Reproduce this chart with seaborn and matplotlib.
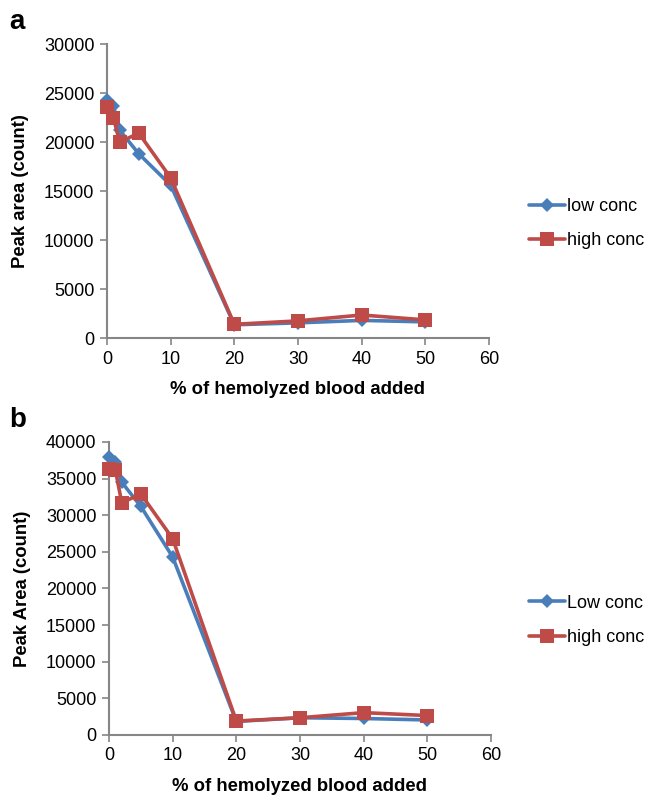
import matplotlib
matplotlib.use("Agg")
import matplotlib.pyplot as plt
import seaborn as sns
import pandas as pd

# ---- data ----
pct = [0, 1, 2, 5, 10, 20, 30, 40, 50]
a_low = [24300, 23700, 21200, 18800, 15600, 1350, 1550, 1800, 1650]
a_high = [23600, 22500, 20000, 20900, 16350, 1400, 1750, 2350, 1850]
b_low = [37900, 37200, 34500, 31200, 24300, 1850, 2350, 2250, 2050]
b_high = [36300, 36200, 31700, 32900, 26800, 1900, 2350, 3050, 2650]

a_names = ["low conc", "high conc"]
b_names = ["Low conc", "high conc"]
xticks = [0, 10, 20, 30, 40, 50, 60]
a_yticks = [0, 5000, 10000, 15000, 20000, 25000, 30000]
b_yticks = [0, 5000, 10000, 15000, 20000, 25000, 30000, 35000, 40000]

BLUE = "#4A7EBB"
RED = "#BE4B48"
SPINE = "#868686"

sns.set_theme(style="white")
plt.rcParams["font.family"] = ["Liberation Sans", "DejaVu Sans"]
plt.rcParams["text.color"] = "black"
plt.rcParams["axes.labelcolor"] = "black"

fig = plt.figure(figsize=(6.48, 7.95), dpi=100)
ax_a = fig.add_axes([0.1651, 0.5748, 0.5895, 0.3698])
ax_b = fig.add_axes([0.1682, 0.0755, 0.5895, 0.3686])


def panel(ax, low, high, names, yticks, ylabel, leg_y):
    df = pd.DataFrame({
        "pct": pct + pct,
        "area": low + high,
        "series": [names[0]] * len(pct) + [names[1]] * len(pct),
    })
    sns.lineplot(data=df, x="pct", y="area", hue="series", style="series",
                 hue_order=names, style_order=names,
                 palette={names[0]: BLUE, names[1]: RED},
                 markers={names[0]: "D", names[1]: "s"}, dashes=False,
                 linewidth=2.6, markeredgewidth=0,
                 ax=ax, legend=True)
    for ln in ax.get_lines():
        ln.set_clip_on(False)
        if ln.get_marker() == "D":
            ln.set_markersize(7.5)
        else:
            ln.set_markersize(10)
    ax.set_xlim(0, 60)
    ax.set_ylim(0, yticks[-1])
    ax.set_xticks(xticks)
    ax.set_yticks(yticks)
    ax.set_xticklabels([str(t) for t in xticks])
    ax.set_yticklabels([str(t) for t in yticks])
    for side in ["top", "right"]:
        ax.spines[side].set_visible(False)
    for side in ["left", "bottom"]:
        ax.spines[side].set_color(SPINE)
        ax.spines[side].set_linewidth(1.5)
        ax.spines[side].set_zorder(0.5)
    ax.tick_params(axis="both", direction="out", length=5, width=1.2,
                   color=SPINE, labelsize=13, labelcolor="black", pad=4,
                   left=True, bottom=True)
    ax.set_xlabel("% of hemolyzed blood added", fontsize=13.3, fontweight="bold",
                  labelpad=10, color="black")
    ax.set_ylabel(ylabel, fontsize=13.3, fontweight="bold", labelpad=11,
                  color="black")
    ax.grid(False)
    h, l = ax.get_legend_handles_labels()
    for hh in h:
        if hh.get_marker() == "D":
            hh.set_markersize(7.5)
        else:
            hh.set_markersize(10)
        hh.set_linewidth(2.6)
    leg = ax.legend(h, l, loc="center left", bbox_to_anchor=(0.805, leg_y),
                    bbox_transform=fig.transFigure, frameon=False, fontsize=13,
                    handlelength=2.0, handletextpad=0.1, labelspacing=0.95,
                    borderaxespad=0)
    for t in leg.get_texts():
        t.set_color("black")


panel(ax_a, a_low, a_high, a_names, a_yticks, "Peak area (count)", 0.7189)
panel(ax_b, b_low, b_high, b_names, b_yticks, "Peak Area (count)", 0.2198)

fig.text(0.014, 0.972, "a", fontsize=20, fontweight="bold", va="center",
         color="black")
fig.text(0.014, 0.472, "b", fontsize=20, fontweight="bold", va="center",
         color="black")

fig.savefig("out.png", dpi=100)
